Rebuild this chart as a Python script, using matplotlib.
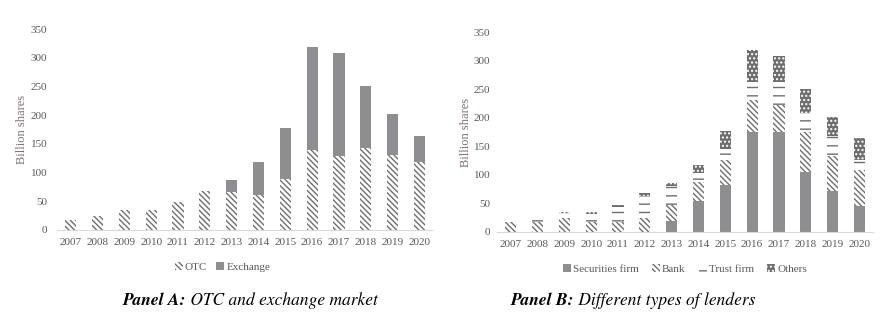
import numpy as np
import matplotlib
matplotlib.use("Agg")
import matplotlib.pyplot as plt

# données (milliards d'actions)
annees = ['2007', '2008', '2009', '2010', '2011', '2012', '2013',
          '2014', '2015', '2016', '2017', '2018', '2019', '2020']
otc = [17, 24, 35, 35, 48, 68, 67, 61, 88, 139, 129, 142, 130, 119]
bourse = [0, 0, 0, 0, 0, 0, 19.5, 57, 89, 180, 179, 109, 72, 45]

titres = [0, 0, 0, 0, 0, 0, 19, 55, 82, 175, 176, 106, 71, 45]
banque = [17, 17.5, 24.5, 17.5, 17.5, 24.5, 29, 32, 44, 57, 47, 70, 62, 64]
fiducie = [0, 7, 8, 14, 26, 39, 33, 17, 20, 31, 40, 33, 35, 18]
autres = [0, 0, 3, 4, 4, 5, 5, 14, 31, 56, 45, 42, 34, 37]

plt.rcParams['font.family'] = ['Liberation Serif', 'DejaVu Serif']
plt.rcParams['hatch.linewidth'] = 1.0

gris = '#8e8e90'
gris_h = '#6e6e70'
texte = '#595959'

fig = plt.figure(figsize=(8.8, 3.21), dpi=100)
axA = fig.add_axes([0.065, 0.2835, 0.427, 0.626])
axB = fig.add_axes([0.565, 0.2773, 0.427, 0.622])

x = np.arange(len(annees))
w = 0.42


def style(ax, lab_x, pad_y):
    ax.set_xlim(-0.5, len(annees) - 0.5)
    ax.set_ylim(0, 350)
    ax.set_yticks(range(0, 351, 50))
    ax.set_xticks(x)
    ax.set_xticklabels(annees)
    for s in ['top', 'right', 'left']:
        ax.spines[s].set_visible(False)
    ax.spines['bottom'].set_color('#d9d9d9')
    ax.tick_params(length=0, labelsize=8, colors=texte)
    ax.tick_params(axis='y', pad=pad_y)
    ax.tick_params(axis='x', pad=6)
    ax.set_ylabel('Billion shares', fontsize=9, color='#7f7272')
    ax.yaxis.set_label_coords(lab_x, 0.5)


def titre(xpos, gras, reste):
    t = fig.text(xpos, 0.05, gras, ha='left', va='baseline', fontsize=12.5,
                 family='STIXGeneral', style='italic', weight='bold')
    fig.add_artist(plt.Annotation(' ' + reste, xy=(1, 0), xycoords=t, va='bottom',
                                  ha='left', fontsize=12.5, family='STIXGeneral',
                                  style='italic'))


# Panel A
axA.bar(x, otc, w, color='white', edgecolor=gris_h, hatch='\\\\\\\\\\\\', linewidth=0, label='OTC')
axA.bar(x, bourse, w, bottom=otc, color=gris, linewidth=0, label='Exchange')
style(axA, -0.077, 7)
axA.legend(loc='upper center', bbox_to_anchor=(0.44, -0.11), ncol=2, frameon=False,
           fontsize=8, labelcolor=texte, handlelength=0.7, handleheight=0.7,
           handletextpad=0.2, columnspacing=0.8)

# Panel B
b1 = np.array(titres)
b2 = b1 + np.array(banque)
b3 = b2 + np.array(fiducie)
axB.bar(x, titres, w, color=gris, linewidth=0, label='Securities firm')
axB.bar(x, banque, w, bottom=b1, color='white', edgecolor=gris_h, hatch='\\\\\\\\\\\\',
        linewidth=0, label='Bank')
axB.bar(x, fiducie, w, bottom=b2, color='white', edgecolor=gris_h, hatch='--',
        linewidth=0, label='Trust firm')
axB.bar(x, autres, w, bottom=b3, color=gris_h, edgecolor='white', hatch='....',
        linewidth=0, label='Others')
style(axB, -0.068, 5)
axB.legend(loc='upper center', bbox_to_anchor=(0.5, -0.11), ncol=4, frameon=False,
           fontsize=8, labelcolor=texte, handlelength=0.7, handleheight=0.7,
           handletextpad=0.2, columnspacing=1.2)

titre(0.139, 'Panel A:', 'OTC and exchange market')
titre(0.580, 'Panel B:', 'Different types of lenders')

fig.savefig('out.png', dpi=100)
